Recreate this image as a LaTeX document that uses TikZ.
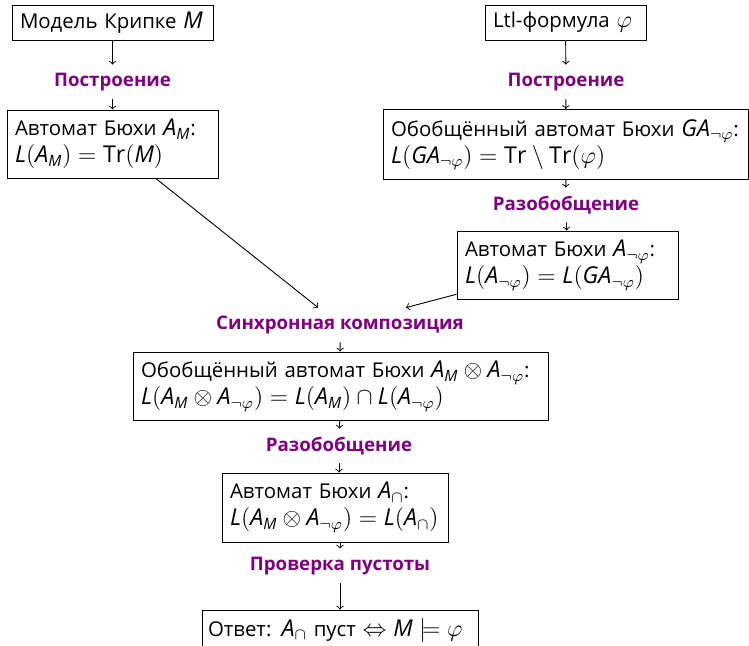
\documentclass[tikz,border=0pt]{standalone}
\usepackage{fontspec}
\setmainfont{Open Sans}
\DeclareMathSizes{10.2}{11.6}{7.8}{6}
\definecolor{stagecol}{RGB}{128,0,128}
\newcommand\mv[1]{\mathit{#1}}
\newcommand\boxline[1]{\mbox{#1}}
\begin{document}
\begin{tikzpicture}[x=0.5pt,y=-0.5pt,
  box/.style={draw, line width=0.5pt, align=left, inner xsep=4pt, inner ysep=0pt,
    font=\fontsize{10.2}{13.5}\selectfont},
  stage/.style={text=stagecol, inner sep=2pt, minimum height=17pt,
    font=\fontsize{9.35}{12}\selectfont\bfseries},
  flow/.style={->, line width=0.45pt}]
\useasboundingbox (0,0) rectangle (749,645);

% source boxes
\node[box, text width=92.5pt, minimum height=17.5pt] (kripke) at (112.5,22.5)
  {\boxline{Модель Крипке $\mv{M}$}};
\node[box, text width=72.5pt, minimum height=17.5pt] (ltl) at (565.5,22.5)
  {\boxline{Ltl-формула $\varphi$}};

% construction step
\node[stage] (buildL) at (112.5,82) {Построение};
\node[stage] (buildR) at (566,82) {Построение};

\node[box, text width=97.5pt, minimum height=34pt] (am) at (112.5,144)
  {\boxline{Автомат Бюхи $\mv{A}_{\mv{M}}$:}\\
   \boxline{$\mv{L}(\mv{A}_{\mv{M}}) = \mathrm{Tr}(\mv{M})$}};
\node[box, text width=174.5pt, minimum height=35pt] (ga) at (565.5,144.5)
  {\boxline{Обобщённый автомат Бюхи $\mv{GA}_{\neg\varphi}$:}\\
   \boxline{$\mv{L}(\mv{GA}_{\neg\varphi}) = \mathrm{Tr} \setminus \mathrm{Tr}(\varphi)$}};

\node[stage] (degenR) at (566,205) {Разобобщение};
\node[box, text width=102.5pt, minimum height=34pt] (anphi) at (567.5,265)
  {\boxline{Автомат Бюхи $\mv{A}_{\neg\varphi}$:}\\
   \boxline{$\mv{L}(\mv{A}_{\neg\varphi}) = \mv{L}(\mv{GA}_{\neg\varphi})$}};

% product
\node[stage] (sync) at (340,325) {Синхронная композиция};
\node[box, text width=199.5pt, minimum height=34pt] (prod) at (340.5,386)
  {\boxline{Обобщённый автомат Бюхи $\mv{A}_{\mv{M}} \otimes \mv{A}_{\neg\varphi}$:}\\
   \boxline{$\mv{L}(\mv{A}_{\mv{M}} \otimes \mv{A}_{\neg\varphi}) = \mv{L}(\mv{A}_{\mv{M}}) \cap \mv{L}(\mv{A}_{\neg\varphi})$}};

\node[stage] (degen) at (339,446) {Разобобщение};
\node[box, text width=105pt, minimum height=34.5pt] (acap) at (335,507.5)
  {\boxline{Автомат Бюхи $\mv{A}_{\cap}$:}\\
   \boxline{$\mv{L}(\mv{A}_{\mv{M}} \otimes \mv{A}_{\neg\varphi}) = \mv{L}(\mv{A}_{\cap})$}};

\node[stage] (check) at (340,566) {Проверка пустоты};
% answer box runs past the lower edge of the page
\node[box, inner xsep=3pt, text width=132pt, minimum height=20pt] (answer) at (340,630)
  {\boxline{Ответ: $\mv{A}_{\cap}$ пуст $\Leftrightarrow \mv{M} \models \varphi$}};

% connectors
\draw[flow] (kripke) -- (buildL);
\draw[flow] (buildL) -- (am);
\draw[flow] (ltl) -- (buildR);
\draw[flow] (buildR) -- (ga);
\draw[flow] (ga) -- (degenR);
\draw[flow] (degenR) -- (anphi);
\draw[flow] (am) -- (sync);
\draw[flow] (anphi) -- (sync);
\draw[flow] (sync) -- (prod);
\draw[flow] (prod) -- (degen);
\draw[flow] (degen) -- (degen |- acap.north);
\draw[flow] (check |- acap.south) -- (check);
\draw[flow] (check) -- (answer);
\end{tikzpicture}
\end{document}
